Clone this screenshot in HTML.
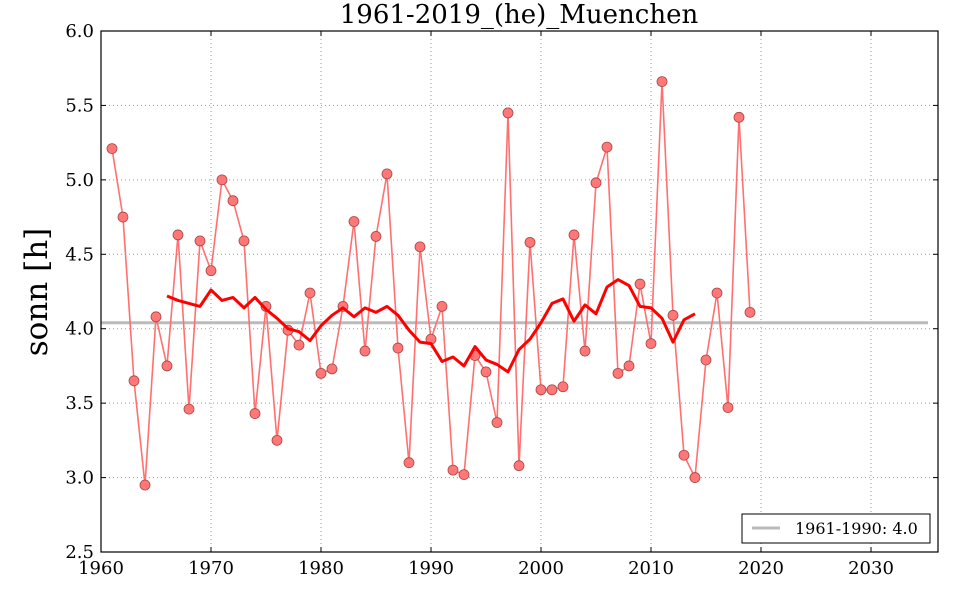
<!DOCTYPE html>
<html><head><meta charset="utf-8"><style>
html,body{margin:0;padding:0;background:#fff;}
svg{display:block;font-family:"DejaVu Serif","Liberation Serif",serif;}
</style></head><body>
<svg id="s" width="960" height="600" xmlns="http://www.w3.org/2000/svg"></svg>
<script>
const X0=101,X1=938,Y0=31,Y1=552;
const fx=y=>X0+(y-1960)*11;
const fy=v=>Y1-(v-2.5)*(Y1-Y0)/3.5;
const data=[5.21,4.75,3.65,2.95,4.08,3.75,4.63,3.46,4.59,4.39,5.00,4.86,4.59,3.43,4.15,3.25,3.99,3.89,4.24,3.70,3.73,4.15,4.72,3.85,4.62,5.04,3.87,3.10,4.55,3.93,4.15,3.05,3.02,3.82,3.71,3.37,5.45,3.08,4.58,3.59,3.59,3.61,4.63,3.85,4.98,5.22,3.70,3.75,4.30,3.90,5.66,4.09,3.15,3.00,3.79,4.24,3.47,5.42,4.11];
const ma=[4.22,4.19,4.17,4.15,4.26,4.19,4.21,4.14,4.21,4.13,4.07,4.00,3.98,3.92,4.02,4.09,4.14,4.08,4.14,4.11,4.15,4.09,3.99,3.91,3.90,3.78,3.81,3.75,3.88,3.79,3.76,3.71,3.86,3.93,4.04,4.17,4.20,4.05,4.16,4.10,4.28,4.33,4.29,4.15,4.14,4.07,3.91,4.06,4.10];
let h='';
for(let y=1960;y<=2030;y+=10){const x=fx(y);h+=`<line x1="${x}" y1="${Y0}" x2="${x}" y2="${Y1}" stroke="#999" stroke-dasharray="1,3" stroke-width="1"/>`;
h+=`<line x1="${x}" y1="${Y1}" x2="${x}" y2="${Y1-5}" stroke="#000"/><line x1="${x}" y1="${Y0}" x2="${x}" y2="${Y0+5}" stroke="#000"/>`;
h+=`<text x="${x}" y="${Y1+22}" font-size="18" text-anchor="middle">${y}</text>`;}
for(let i=0;i<=7;i++){const v=2.5+i*0.5;const y=fy(v);h+=`<line x1="${X0}" y1="${y}" x2="${X1}" y2="${y}" stroke="#999" stroke-dasharray="1,3" stroke-width="1"/>`;
h+=`<line x1="${X0}" y1="${y}" x2="${X0+5}" y2="${y}" stroke="#000"/><line x1="${X1}" y1="${y}" x2="${X1-5}" y2="${y}" stroke="#000"/>`;
h+=`<text x="${X0-7}" y="${y+6}" font-size="18" text-anchor="end">${v.toFixed(1)}</text>`;}
const by=fy(4.04);
h+=`<line x1="${X0}" y1="${by}" x2="928" y2="${by}" stroke="#bbb" stroke-width="3"/>`;
h+=`<polyline fill="none" stroke="#ff7070" stroke-width="1.6" points="${data.map((v,i)=>fx(1961+i)+','+fy(v)).join(' ')}"/>`;
data.forEach((v,i)=>{h+=`<circle cx="${fx(1961+i)}" cy="${fy(v)}" r="5" fill="#f77" stroke="#a44" stroke-width="0.8"/>`;});
h+=`<polyline fill="none" stroke="#f00" stroke-width="3" stroke-linejoin="round" points="${ma.map((v,i)=>fx(1966+i)+','+fy(v)).join(' ')}"/>`;
h+=`<rect x="${X0}" y="${Y0}" width="${X1-X0}" height="${Y1-Y0}" fill="none" stroke="#000" stroke-width="1.2"/>`;
h+=`<rect x="742" y="514" width="188" height="29" fill="#fff" stroke="#000" stroke-width="1"/>`;
h+=`<line x1="752" y1="528" x2="780" y2="528" stroke="#bbb" stroke-width="3"/>`;
h+=`<text x="795" y="534" font-size="16">1961-1990: 4.0</text>`;
h+=`<text x="519" y="23" font-size="26" text-anchor="middle">1961-2019_(he)_Muenchen</text>`;
h+=`<text transform="translate(47,292) rotate(-90)" font-size="31" text-anchor="middle">sonn [h]</text>`;
document.getElementById('s').innerHTML=h;
</script>
</body></html>
